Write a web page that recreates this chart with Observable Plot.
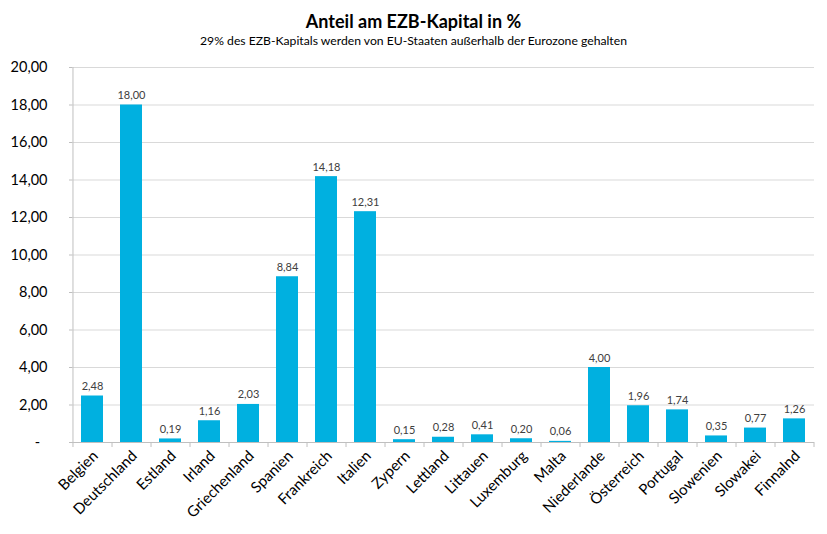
<!DOCTYPE html>
<html><head><meta charset="utf-8">
<script src="https://cdn.jsdelivr.net/npm/d3@7"></script>
<script src="https://cdn.jsdelivr.net/npm/@observablehq/plot@0.6"></script>
<style>
body{margin:0;background:#fff;font-family:Lato,sans-serif;}
#head{height:56px;text-align:center;}
#title{font-weight:bold;font-size:18px;color:#000;padding-top:11px;line-height:21px;}
#sub{font-size:12.2px;color:#000;line-height:16px;margin-top:1px;}
</style></head><body>
<div id="head"><div id="title">Anteil am EZB-Kapital in %</div><div id="sub">29% des EZB-Kapitals werden von EU-Staaten außerhalb der Eurozone gehalten</div></div>
<div id="chart"></div>
<script>
const countries = ["Belgien","Deutschland","Estland","Irland","Griechenland","Spanien","Frankreich","Italien","Zypern","Lettland","Littauen","Luxemburg","Malta","Niederlande","Österreich","Portugal","Slowenien","Slowakei","Finnalnd"];
const shares = [2.48,18.00,0.19,1.16,2.03,8.84,14.18,12.31,0.15,0.28,0.41,0.20,0.06,4.00,1.96,1.74,0.35,0.77,1.26];
const yTicks = [0,2,4,6,8,10,12,14,16,18,20];

const data = countries.map((c,i)=>({country:c, value:shares[i]}));
const W=827, H=478, mL=72, mR=13, mT=11, mB=92;
const step=(W-mL-mR)/countries.length;
const fmt = v => v===0 ? "-\u00a0\u00a0" : v.toFixed(2).replace(".", ",");

const plot = Plot.plot({
  width:W, height:H, marginLeft:mL, marginRight:mR, marginTop:mT, marginBottom:mB,
  style:{fontFamily:"Lato, sans-serif", background:"#fff", overflow:"visible"},
  x:{domain:countries, paddingInner:0.44, paddingOuter:0.22, label:null},
  y:{domain:[0,20], label:null},
  marks:[
    Plot.ruleY(yTicks.filter(d=>d>0), {stroke:"#d9d9d9", strokeWidth:1}),
    Plot.barY(data, {x:"country", y:"value", fill:"#00B0E0"}),
    Plot.ruleY([0], {stroke:"#bfbfbf"}),
    Plot.ruleX([countries[0]], {y1:20, y2:0, dx:-step/2, stroke:"#bfbfbf", insetBottom:-5}),
    Plot.ruleX(countries, {y1:0, y2:0, dx:step/2, stroke:"#bfbfbf", insetBottom:-5}),
    Plot.text(data, {x:"country", y:"value", text:d=>fmt(d.value), dy:-6, lineAnchor:"bottom", fontSize:11, fill:"#404040"}),
    Plot.axisY({ticks:yTicks, tickFormat:fmt, tickSize:3, tickPadding:22, fontSize:14.5, stroke:"#bfbfbf", fill:"#000", label:null}),
    Plot.axisX({tickRotate:-45, tickSize:0, tickPadding:11, fontSize:15, fill:"#000", dx:3, label:null})
  ]
});
document.getElementById("chart").appendChild(plot);
</script>
</body></html>
